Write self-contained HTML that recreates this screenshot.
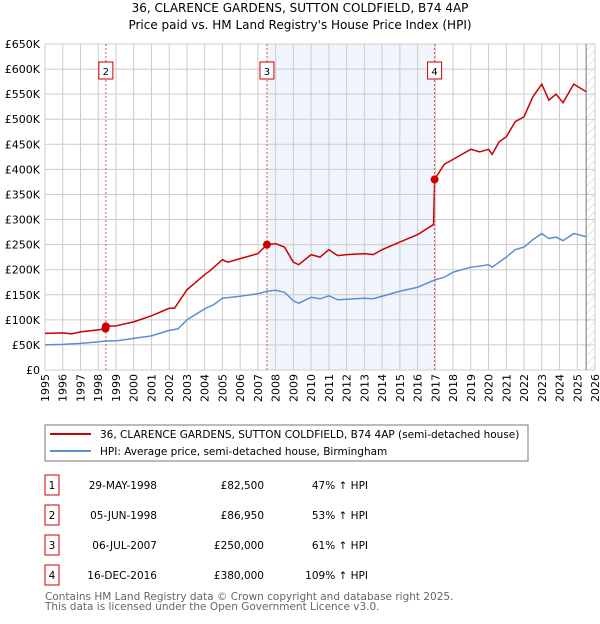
<!DOCTYPE html>
<html><head><meta charset="utf-8"><style>
body{margin:0;background:#fff;font-family:"DejaVu Sans","Liberation Sans",sans-serif;}
svg text{font-family:"DejaVu Sans","Liberation Sans",sans-serif;}
</style></head><body>
<svg id="chart" width="600" height="620" viewBox="0 0 600 620" xmlns="http://www.w3.org/2000/svg">
<defs><pattern id="hatch" width="6" height="6" patternUnits="userSpaceOnUse" patternTransform="rotate(45)"><line x1="0" y1="0" x2="0" y2="6" stroke="#ccc" stroke-width="1"/></pattern></defs>
<text x="300" y="12" text-anchor="middle" font-size="12">36, CLARENCE GARDENS, SUTTON COLDFIELD, B74 4AP</text>
<text x="300" y="29" text-anchor="middle" font-size="12">Price paid vs. HM Land Registry's House Price Index (HPI)</text>
<g id="grid"></g><g id="series"></g><g id="marks"></g>
<rect x="45" y="425" width="483" height="36" fill="#fff" stroke="#777"/>
<line x1="50" y1="434" x2="91" y2="434" stroke="#cc0000" stroke-width="2"/>
<text x="100" y="438" font-size="10.5">36, CLARENCE GARDENS, SUTTON COLDFIELD, B74 4AP (semi-detached house)</text>
<line x1="50" y1="451" x2="91" y2="451" stroke="#5b8fd4" stroke-width="2"/>
<text x="100" y="455" font-size="10.5">HPI: Average price, semi-detached house, Birmingham</text>
<g id="table" font-size="10.5"></g>
<text x="45" y="600" font-size="10.5" fill="#666">Contains HM Land Registry data © Crown copyright and database right 2025.</text>
<text x="45" y="610" font-size="10.5" fill="#666">This data is licensed under the Open Government Licence v3.0.</text>
</svg>
<script>
const yTicks=[0,50,100,150,200,250,300,350,400,450,500,550,600,650];
const yLabels=["£0","£50K","£100K","£150K","£200K","£250K","£300K","£350K","£400K","£450K","£500K","£550K","£600K","£650K"];
const xYears=[1995,1996,1997,1998,1999,2000,2001,2002,2003,2004,2005,2006,2007,2008,2009,2010,2011,2012,2013,2014,2015,2016,2017,2018,2019,2020,2021,2022,2023,2024,2025,2026];
const hpiT=[1995,1996,1997,1998,1998.5,1999,2000,2001,2002,2002.5,2003,2004,2004.5,2005,2005.5,2006,2007,2007.5,2008,2008.5,2009,2009.3,2010,2010.5,2011,2011.5,2012,2013,2013.5,2014,2015,2016,2017,2017.5,2018,2019,2019.5,2020,2020.2,2020.6,2021,2021.5,2022,2022.5,2023,2023.4,2023.8,2024.2,2024.8,2025.5];
const hpiV=[50,51,53,56,58,58,63,68,79,82,100,122,130,143,145,147,152,157,159,155,138,133,145,142,148,140,141,143,142,147,157,165,180,185,195,205,207,210,205,215,225,240,245,260,272,262,265,258,272,266];
const propT=[1995,1996,1996.5,1997,1998,1998.41,1998.43,1999,2000,2001,2002,2002.3,2003,2004,2004.3,2005,2005.3,2006,2007,2007.51,2008,2008.5,2009,2009.3,2010,2010.5,2011,2011.5,2012,2013,2013.5,2014,2015,2016,2016.9,2016.96,2017.5,2018,2019,2019.5,2020,2020.2,2020.6,2021,2021.5,2022,2022.5,2023,2023.4,2023.8,2024.2,2024.8,2025.5];
const propV=[73,74,72,76,80,82.5,86.95,88,96,108,123,123,160,190,198,220,215,222,232,250,252,245,215,210,230,225,240,228,230,232,230,240,255,270,290,380,410,420,440,435,440,430,455,465,495,505,545,570,538,550,533,570,555];
const saleIds=["1","2","3","4"];
const saleT=[1998.41,1998.43,2007.51,2016.96];
const saleV=[82.5,86.95,250,380];
const saleDates=["29-MAY-1998","05-JUN-1998","06-JUL-2007","16-DEC-2016"];
const salePrices=["£82,500","£86,950","£250,000","£380,000"];
const saleHpi=["47% ↑ HPI","53% ↑ HPI","61% ↑ HPI","109% ↑ HPI"];
const NS="http://www.w3.org/2000/svg";
const X0=45,X1=595,Y0=370,Y1=44;
const xs=t=>X0+(t-1995)*(X1-X0)/31;
const ys=v=>Y0-v*(Y0-Y1)/650;
function mk(tag,attrs,parent,txt){const e=document.createElementNS(NS,tag);for(const k in attrs)e.setAttribute(k,attrs[k]);if(txt!=null)e.textContent=txt;parent.appendChild(e);return e;}
const grid=document.getElementById('grid'),series=document.getElementById('series'),marks=document.getElementById('marks'),table=document.getElementById('table');
let r=mk('rect',{x:xs(saleT[2]),y:Y1,width:xs(saleT[3])-xs(saleT[2]),height:Y0-Y1,fill:'#f0f4fc'},grid);


r=mk('rect',{x:xs(2025.5),y:Y1,width:X1-xs(2025.5),height:Y0-Y1,fill:'url(#hatch)'},grid);


yTicks.forEach((v,i)=>{mk('line',{x1:X0,x2:X1,y1:ys(v),y2:ys(v),stroke:'#ccc'},grid);
 const t=mk('text',{x:40,y:ys(v)+4,'text-anchor':'end','font-size':11},grid,yLabels[i]);
 
 });
xYears.forEach(y=>{mk('line',{x1:xs(y),x2:xs(y),y1:Y1,y2:Y0,stroke:'#ccc'},grid);
 const t=mk('text',{x:0,y:0,'text-anchor':'end','font-size':11,transform:`translate(${xs(y)+4},374) rotate(-90)`},grid,String(y));
 
 });
mk('line',{x1:xs(2025.5),x2:xs(2025.5),y1:Y1,y2:Y0,stroke:'#777'},grid);
const hp=mk('polyline',{points:hpiT.map((t,i)=>xs(t)+','+ys(hpiV[i])).join(' '),fill:'none',stroke:'#5b8fd4','stroke-width':1.5},series);


const pp=mk('polyline',{points:propT.map((t,i)=>xs(t)+','+ys(propV[i])).join(' '),fill:'none',stroke:'#cc0000','stroke-width':1.5},series);


saleT.forEach((t,i)=>{
 if(i>0){mk('line',{x1:xs(t),x2:xs(t),y1:Y1,y2:Y0,stroke:'#e05050','stroke-dasharray':'2,2'},marks);
  const b=mk('rect',{x:xs(t)-7,y:62,width:14,height:17,fill:'#fff',stroke:'#c00'},marks);
  
  
  mk('text',{x:xs(t),y:75,'text-anchor':'middle','font-size':10},marks,saleIds[i]);}
 const c=mk('circle',{cx:xs(t),cy:ys(saleV[i]),r:4,fill:'#cc0000'},marks);
 
 
});
saleIds.forEach((id,i)=>{const y=483+i*30;
 const b=mk('rect',{x:45,y:y-8,width:14,height:20,fill:'#fff',stroke:'#c00'},table);
 
 
 mk('text',{x:52,y:y+6,'text-anchor':'middle'},table,id);
 const d=mk('text',{x:157,y:y+6,'text-anchor':'end'},table,saleDates[i]);
 
 
 const p=mk('text',{x:264,y:y+6,'text-anchor':'end'},table,salePrices[i]);
 
 
 const h=mk('text',{x:368,y:y+6,'text-anchor':'end'},table,saleHpi[i]);
 
 
});
</script>
</body></html>
